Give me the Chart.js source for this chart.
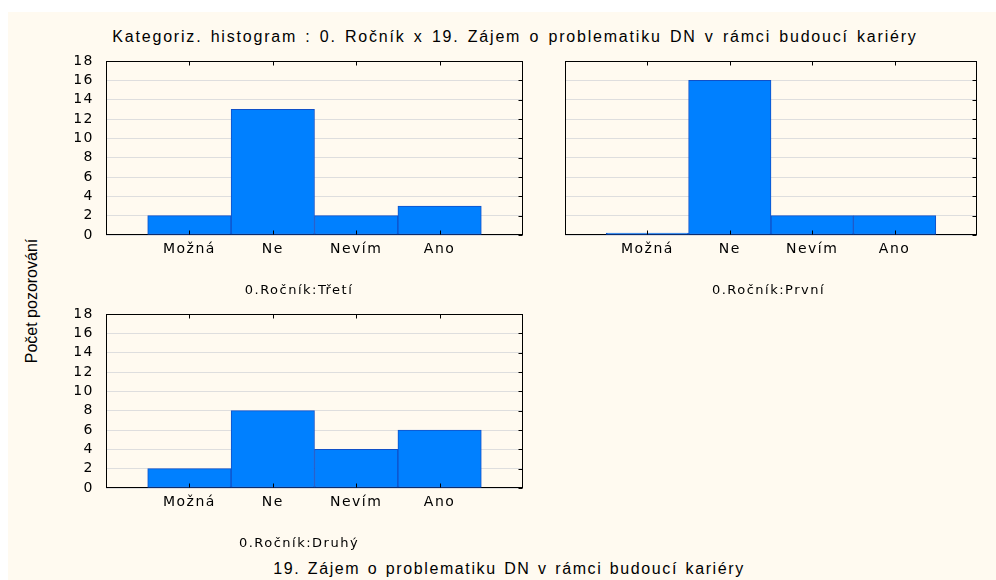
<!DOCTYPE html>
<html>
<head>
<meta charset="utf-8">
<script src="https://cdn.jsdelivr.net/npm/chart.js@4/dist/chart.umd.min.js"></script>
<style>
    body { margin: 0; background: #fff; width: 996px; height: 580px; position: relative; overflow: hidden; }
    #pozadi { position: absolute; left: 8px; top: 12px; right: 0; bottom: 0; background: #fffaf0; }
    canvas { position: absolute; }
    .text { position: absolute; color: #000; white-space: nowrap; font-family: "Liberation Sans", Arial, sans-serif; }
    #nadpis { left: 515px; top: 29px; font-size: 16px; line-height: 16px; letter-spacing: 1.8px; word-spacing: 2px; transform: translateX(-50%); }
    #osaX { left: 509px; top: 561px; font-size: 16px; line-height: 16px; letter-spacing: 1.6px; word-spacing: 1.5px; transform: translateX(-50%); }
    #osaY { left: 32px; top: 301px; font-size: 16px; line-height: 16px; transform: translate(-50%, -50%) rotate(-90deg); }
</style>
</head>
<body>
<div id="pozadi"></div>
<div class="text" id="nadpis">Kategoriz. histogram : 0. Ročník x 19. Zájem o problematiku DN v rámci budoucí kariéry</div>
<div class="text" id="osaX">19. Zájem o problematiku DN v rámci budoucí kariéry</div>
<div class="text" id="osaY">Počet pozorování</div>

<canvas id="tretí" width="465" height="260" style="left:75px; top:50px"></canvas>
<canvas id="první" width="431" height="260" style="left:559px; top:50px"></canvas>
<canvas id="druhý" width="465" height="260" style="left:75px; top:303px"></canvas>

<script>
// kategorie odpovědí (prázdné okraje = půl sloupce místa vlevo a vpravo)
const odpovedi = ['', 'Možná', 'Ne', 'Nevím', 'Ano', ''];

// počty pozorování pro jednotlivé ročníky
const tretiRocnik = [null, 2, 13, 2, 3, null];
const prvniRocnik = [null, 0, 16, 2, 2, null];
const druhyRocnik = [null, 2, 8, 4, 6, null];

// rozsah osy y
const osaYMin = 0;
const osaYMax = 18;
const osaYKrok = 2;

const pismoOsy = 'DejaVu Sans';

/**
 * rámeček kolem grafu (pod sloupci) a malé čárky dovnitř (nad sloupci)
 */
const ramecek = {
    id: 'ramecek',
    beforeDraw(chart) {
        chart.ctx.letterSpacing = '1.5px';
    },
    beforeDatasetsDraw(chart) {
        const { ctx, chartArea: a } = chart;
        ctx.save();
        ctx.strokeStyle = '#000';
        ctx.lineWidth = 1;
        const l = Math.round(a.left) + 0.5;
        const r = Math.round(a.right) - 0.5;
        const t = Math.round(a.top) + 0.5;
        const b = Math.round(a.bottom) - 0.5;
        ctx.strokeRect(l, t, r - l, b - t);
        ctx.restore();
    },
    afterDatasetsDraw(chart) {
        const { ctx, chartArea: a, scales } = chart;
        ctx.save();
        ctx.strokeStyle = '#000';
        ctx.lineWidth = 1;
        const r = Math.round(a.right) - 0.5;
        const t = Math.round(a.top) + 0.5;
        const b = Math.round(a.bottom) - 0.5;
        ctx.beginPath();
        scales.x.ticks.forEach((tick, i) => {
            if (!tick.label) return;
            const x = Math.round(scales.x.getPixelForTick(i)) + 0.5;
            ctx.moveTo(x, t);
            ctx.lineTo(x, t + 4);
            ctx.moveTo(x, b);
            ctx.lineTo(x, b - 4);
        });
        scales.y.ticks.forEach((tick, i) => {
            const y = Math.round(scales.y.getPixelForTick(i)) + 0.5;
            ctx.moveTo(r, y);
            ctx.lineTo(r - 4, y);
        });
        ctx.stroke();
        ctx.restore();
    }
};

/**
 * jeden dílčí histogram
 * @param id canvasu
 * @param hodnoty počty pro kategorie
 * @param popis podnadpis pod grafem
 * @param sPopisky zda kreslit čísla na ose y
 */
function histogram(id, hodnoty, popis, sPopisky) {
    const data = {
        labels: odpovedi,
        datasets: [{
            data: hodnoty,
            backgroundColor: '#0080ff',
            borderColor: '#1050c8',
            borderWidth: 1,
            borderSkipped: false,
            minBarLength: 2,
            barPercentage: 1,
            categoryPercentage: 1
        }]
    };

    const config = {
        type: 'bar',
        data: data,
        options: {
            responsive: false,
            animation: false,
            layout: {
                padding: sPopisky
                    ? { top: 11, right: 17, bottom: 12, left: 0 }
                    : { top: 11, right: 13, bottom: 12, left: 1 }
            },
            plugins: {
                legend: { display: false },
                tooltip: { enabled: false },
                title: {
                    display: true,
                    position: 'bottom',
                    text: popis,
                    color: '#000',
                    padding: 0,
                    font: { family: pismoOsy, size: 13, weight: 'normal', lineHeight: 1.2 }
                }
            },
            scales: {
                x: {
                    type: 'category',
                    offset: false,
                    grid: { display: false, drawTicks: false },
                    border: { display: false },
                    ticks: {
                        autoSkip: false,
                        maxRotation: 0,
                        padding: 6,
                        color: '#000',
                        font: { family: pismoOsy, size: 14 }
                    },
                    afterFit(scale) { scale.height = 47.4; }
                },
                y: {
                    min: osaYMin,
                    max: osaYMax,
                    grid: { color: '#dedede', drawTicks: false },
                    border: { display: false },
                    ticks: {
                        display: sPopisky,
                        autoSkip: false,
                        stepSize: osaYKrok,
                        padding: 12,
                        color: '#000',
                        font: { family: pismoOsy, size: 14 }
                    },
                    afterFit(scale) {
                        scale.width = sPopisky ? 31 : 0;
                        scale.paddingTop = 0;
                        scale.paddingBottom = 0;
                    }
                }
            }
        },
        plugins: [ramecek]
    };

    const ctx = document.getElementById(id);
    new Chart(ctx, config);
}

histogram('tretí', tretiRocnik, '0.Ročník:Třetí', true);
histogram('první', prvniRocnik, '0.Ročník:První', false);
histogram('druhý', druhyRocnik, '0.Ročník:Druhý', true);
</script>
</body>
</html>
